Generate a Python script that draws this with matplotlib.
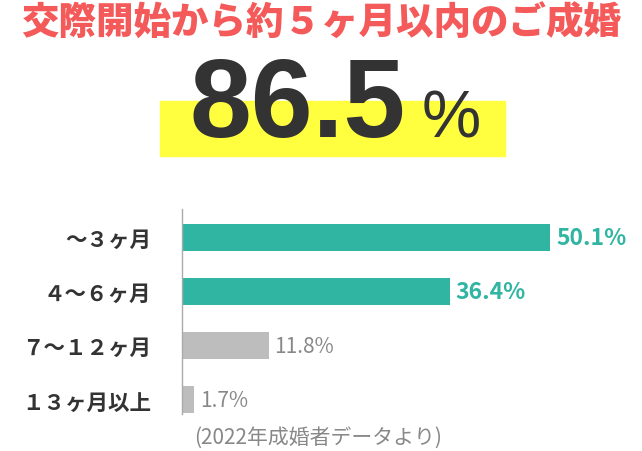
import matplotlib.pyplot as plt
from matplotlib.patches import Rectangle

# ==============================
# DATA
# ==============================
categories = ["〜３ヶ月", "４〜６ヶ月", "７〜１２ヶ月", "１３ヶ月以上"]
values = [50.1, 36.4, 11.8, 1.7]
highlight = [True, True, False, False]
headline = "86.5"

title = "交際開始から約５ヶ月以内のご成婚"
note = "(2022年成婚者データより)"

# ==============================
# STYLE
# ==============================
plt.rcParams["font.family"] = ["Noto Sans CJK JP", "DejaVu Sans"]
RED = "#F45A5A"
TEAL = "#2FB5A1"
GRAY = "#BDBDBD"
DARK = "#333333"
YELLOW = "#FFFF40"

fig = plt.figure(figsize=(6.42, 4.52), dpi=100)
fig.patch.set_facecolor("white")

W, H = 642, 452


def fx(px):
    return px / W


def fy(py):
    return 1 - py / H


# title
fig.text(fx(321), fy(24), title, ha="center", va="center",
         fontsize=27, fontweight="black", color=RED)

# yellow highlight box + big number
fig.patches.append(Rectangle((fx(160), fy(157)), fx(505) - fx(160), fy(102) - fy(157),
                             transform=fig.transFigure, color=YELLOW, zorder=0))
fig.text(fx(298), fy(137), headline, ha="center", va="baseline",
         fontsize=80, fontweight="bold", color=DARK, family="Liberation Sans")
fig.text(fx(422), fy(137), "%", ha="left", va="baseline",
         fontsize=48, color=DARK, family="Liberation Sans")

# ==============================
# BAR CHART
# ==============================
ax = fig.add_axes([fx(182), fy(415), fx(632) - fx(182), fy(210) - fy(415)])
ypos = list(range(len(categories)))
colors = [TEAL if h else GRAY for h in highlight]
ax.barh(ypos, values, height=0.5, color=colors)
ax.set_xlim(0, 450 / 7.35)
ax.set_ylim(3.26, -0.52)

for s in ["top", "right", "bottom"]:
    ax.spines[s].set_visible(False)
ax.spines["left"].set_color("#AAAAAA")
ax.spines["left"].set_linewidth(1)
ax.set_xticks([])
ax.set_yticks(ypos)
ax.set_yticklabels(categories, fontsize=15.5, fontweight="bold", color=DARK)
ax.tick_params(axis="y", length=0, pad=22)

for y, v, h in zip(ypos, values, highlight):
    ax.text(v + 0.8, y, f"{v}%", va="center", ha="left",
            fontsize=16.5 if h else 15, fontweight="bold" if h else "normal",
            color=TEAL if h else "#888888")

fig.text(fx(194), fy(438), note, ha="left", va="center", fontsize=15, color="#888888")

plt.savefig("out.png", dpi=100, facecolor="white")
plt.close()
